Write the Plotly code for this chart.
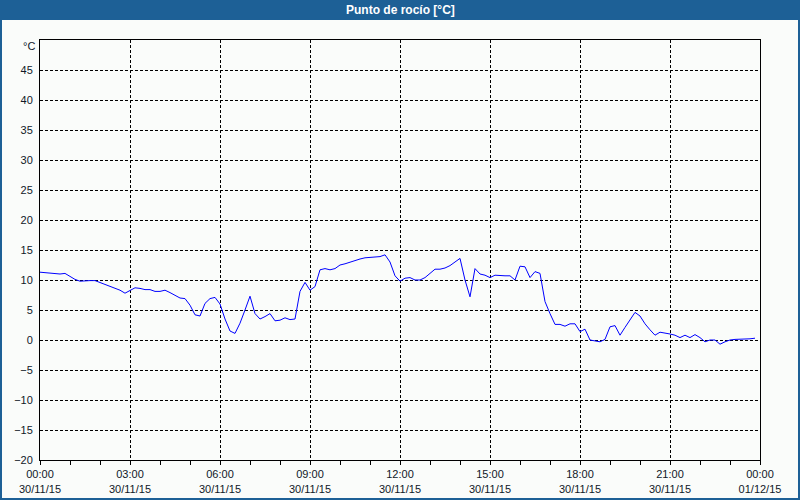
import plotly.graph_objects as go
import pandas as pd

# Dew point readings every 10 minutes on 30/11/15
start_time = "2015-11-30 00:00"
dew_point = [
    11.3, 11.2, 11.1, 11.0, 11.0, 11.1, 10.6, 10.1, 9.8, 9.9,
    9.9, 9.9, 9.6, 9.3, 9.0, 8.7, 8.3, 7.8, 8.3, 8.7,
    8.6, 8.4, 8.4, 8.1, 8.1, 8.3, 7.9, 7.4, 7.0, 6.9,
    5.8, 4.2, 4.0, 6.1, 6.9, 7.1, 6.0, 3.5, 1.5, 1.1,
    2.8, 5.0, 7.3, 4.4, 3.5, 3.9, 4.4, 3.2, 3.3, 3.7,
    3.4, 3.5, 8.1, 9.6, 8.3, 8.9, 11.7, 11.9, 11.7, 11.9,
    12.5, 12.7, 13.0, 13.2, 13.5, 13.7, 13.8, 13.8, 13.9, 14.2,
    13.0, 10.7, 9.8, 10.3, 10.4, 10.0, 10.0, 10.4, 11.1, 11.8,
    11.8, 12.0, 12.4, 13.0, 13.6, 10.0, 7.2, 11.9, 11.0, 10.8,
    10.4, 10.8, 10.7, 10.7, 10.7, 10.0, 12.3, 12.2, 10.4, 11.4,
    11.1, 6.4, 4.4, 2.6, 2.6, 2.3, 2.7, 2.7, 1.4, 1.8,
    0.0, -0.1, -0.3, 0.1, 2.2, 2.4, 0.8, 2.1, 3.3, 4.6,
    4.0, 2.7, 1.7, 0.8, 1.3, 1.2, 1.0, 0.8, 0.4, 0.8,
    0.4, 0.9, 0.4, -0.3, 0.0, 0.0, -0.7, -0.3, 0.0, 0.1,
    0.1, 0.2, 0.2, 0.3,
]
times = pd.date_range(start_time, periods=len(dew_point), freq="10min")

x_tick_vals = ["2015-11-30 00:00", "2015-11-30 03:00", "2015-11-30 06:00",
               "2015-11-30 09:00", "2015-11-30 12:00", "2015-11-30 15:00",
               "2015-11-30 18:00", "2015-11-30 21:00", "2015-12-01 00:00"]
x_tick_text = ["00:00<br>30/11/15", "03:00<br>30/11/15", "06:00<br>30/11/15",
               "09:00<br>30/11/15", "12:00<br>30/11/15", "15:00<br>30/11/15",
               "18:00<br>30/11/15", "21:00<br>30/11/15", "00:00<br>01/12/15"]
y_tick_vals = [-20, -15, -10, -5, 0, 5, 10, 15, 20, 25, 30, 35, 40, 45]

title_text = "Punto de rocío [°C]"
unit_text = "°C"

BG = "#fafcfa"
BLUE_BAR = "#1d6096"
TXT = "#101828"
FONT = "Liberation Sans"

fig = go.Figure()
fig.add_trace(go.Scatter(x=times, y=dew_point, mode="lines",
                         line=dict(color="#0000ff", width=1),
                         hoverinfo="x+y", showlegend=False))

W, H = 800, 500
L, R, T, B = 40, 40, 40, 40
pw, ph = W - L - R, H - T - B

def px_x(p):
    return (p - L) / pw

def px_y(p):
    return (H - B - p) / ph

fig.update_layout(
    width=W, height=H,
    margin=dict(l=L, r=R, t=T, b=B, pad=0, autoexpand=False),
    paper_bgcolor=BG, plot_bgcolor=BG,
    font=dict(family=FONT, size=11, color=TXT),
    xaxis=dict(
        type="date", automargin=False,
        range=["2015-11-30 00:00", "2015-12-01 00:00"],
        tickvals=x_tick_vals, ticktext=x_tick_text,
        ticks="outside", ticklen=4, tickcolor="#000000", tickwidth=1,
        showgrid=True, gridcolor="#000000", gridwidth=1, griddash="3px,2px",
        showline=True, linecolor="#000000", linewidth=1, mirror=True,
        zeroline=False,
        tickfont=dict(family=FONT, size=11, color=TXT),
        minor=dict(dtick=3600000, ticks="outside", ticklen=4,
                   tickcolor="#000000", showgrid=False),
    ),
    yaxis=dict(
        automargin=False,
        range=[-20, 50],
        tickvals=y_tick_vals,
        ticks="", ticklabelstandoff=4,
        showgrid=True, gridcolor="#000000", gridwidth=1, griddash="3px,2px",
        showline=True, linecolor="#000000", linewidth=1, mirror=True,
        zeroline=False,
        tickfont=dict(family=FONT, size=11, color=TXT),
    ),
    shapes=[
        dict(type="rect", xref="paper", yref="paper",
             x0=px_x(0), x1=px_x(W), y0=px_y(20), y1=px_y(0),
             fillcolor=BLUE_BAR, line=dict(width=0), layer="above"),
        dict(type="rect", xref="paper", yref="paper",
             x0=px_x(1), x1=px_x(W - 1), y0=px_y(H - 1), y1=px_y(1),
             fillcolor="rgba(0,0,0,0)", line=dict(color=BLUE_BAR, width=2)),
    ],
    annotations=[
        dict(text=f"<b>{title_text}</b>", xref="paper", yref="paper",
             x=0.5, y=px_y(10), xanchor="center", yanchor="middle",
             showarrow=False, font=dict(family=FONT, size=12, color="#ffffff")),
        dict(text=unit_text, xref="paper", yref="paper",
             x=px_x(37), y=px_y(46), xanchor="right", yanchor="middle",
             showarrow=False, font=dict(family=FONT, size=11, color=TXT)),
    ],
)

fig.write_html("out.html",
               config={"displayModeBar": False},
               post_script="document.body.style.margin='0';document.body.style.overflow='hidden';")
